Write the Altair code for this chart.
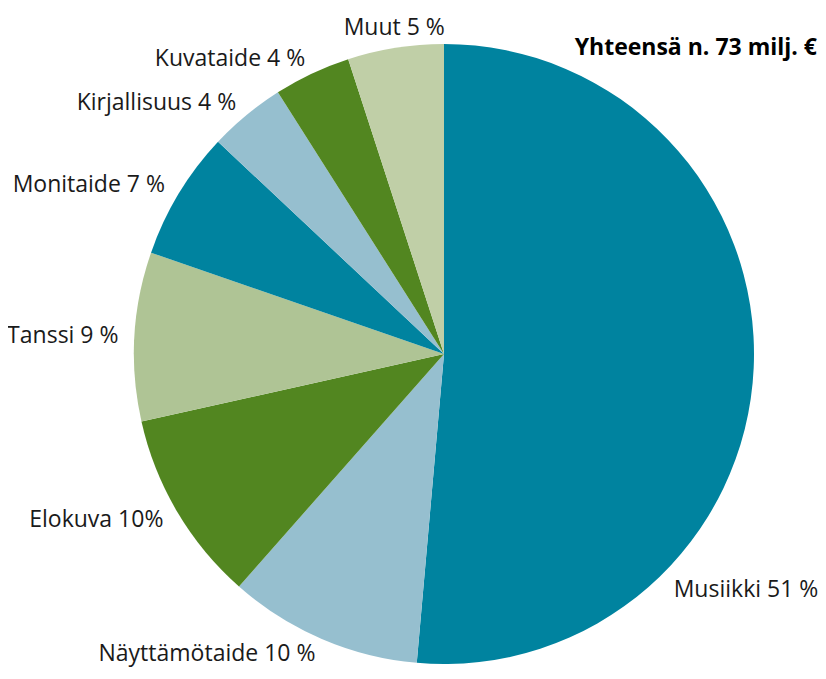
import altair as alt
import pandas as pd

categories = ["Musiikki", "Näyttämötaide", "Elokuva", "Tanssi", "Monitaide",
              "Kirjallisuus", "Kuvataide", "Muut"]
values = [51.4, 10.1, 10.0, 8.8, 6.7, 4.0, 4.0, 5.0]
labels = ["Musiikki 51 %", "Näyttämötaide 10 %", "Elokuva 10%", "Tanssi 9 %",
          "Monitaide 7 %", "Kirjallisuus 4 %", "Kuvataide 4 %", "Muut 5 %"]
colors = ["#00839f", "#96bfcf", "#528620", "#afc495", "#00839f",
          "#96bfcf", "#528620", "#c0cfa7"]
title_text = "Yhteensä n. 73 milj. €"

df = pd.DataFrame({
    "idx": list(range(len(categories))),
    "category": categories,
    "value": values,
    "label": labels,
    "color": colors,
})

FONT = "Open Sans"
CX, CY, R = 436, 346, 310

base = alt.Chart(df).transform_window(
    end="sum(value)", sort=[alt.SortField("idx")], frame=[None, 0]
).transform_calculate(
    start="datum.end - datum.value",
    mid="datum.end - datum.value / 2",
)

theta_scale = alt.Scale(domain=[0, 100])

arcs = base.mark_arc(radius=R).encode(
    theta=alt.Theta("start:Q", scale=theta_scale),
    theta2="end:Q",
    color=alt.Color("color:N", scale=None),
    x=alt.value(CX), y=alt.value(CY),
)

txt = dict(font=FONT, fontSize=23, color="#1a1a1a")

left = base.transform_filter(
    "datum.category != 'Musiikki' && datum.category != 'Muut'"
).mark_text(align="right", baseline="middle", radius=326, **txt).encode(
    theta=alt.Theta("mid:Q", scale=theta_scale),
    text="label:N",
    x=alt.value(CX), y=alt.value(CY),
)

top = base.transform_filter("datum.category == 'Muut'").mark_text(
    align="center", baseline="bottom", radius=318, **txt
).encode(
    theta=alt.Theta("mid:Q", scale=theta_scale),
    text="label:N",
    x=alt.value(CX), y=alt.value(CY),
)

right = base.transform_filter("datum.category == 'Musiikki'").mark_text(
    align="left", baseline="middle", radius=330, dx=-100, dy=221, **txt
).encode(
    theta=alt.Theta("mid:Q", scale=theta_scale),
    text="label:N",
    x=alt.value(CX), y=alt.value(CY),
)

title = alt.Chart(pd.DataFrame({"t": [title_text]})).mark_text(
    align="right", baseline="middle", font=FONT, fontSize=23,
    fontWeight="bold", color="#000000"
).encode(text="t:N", x=alt.value(809), y=alt.value(40))

chart = alt.layer(arcs, left, top, right, title).properties(
    width=810, height=660, padding=0,
    autosize=alt.AutoSizeParams(type="none"),
).configure_view(stroke=None)

chart.save("out.html", embed_options={"renderer": "svg", "actions": False})
